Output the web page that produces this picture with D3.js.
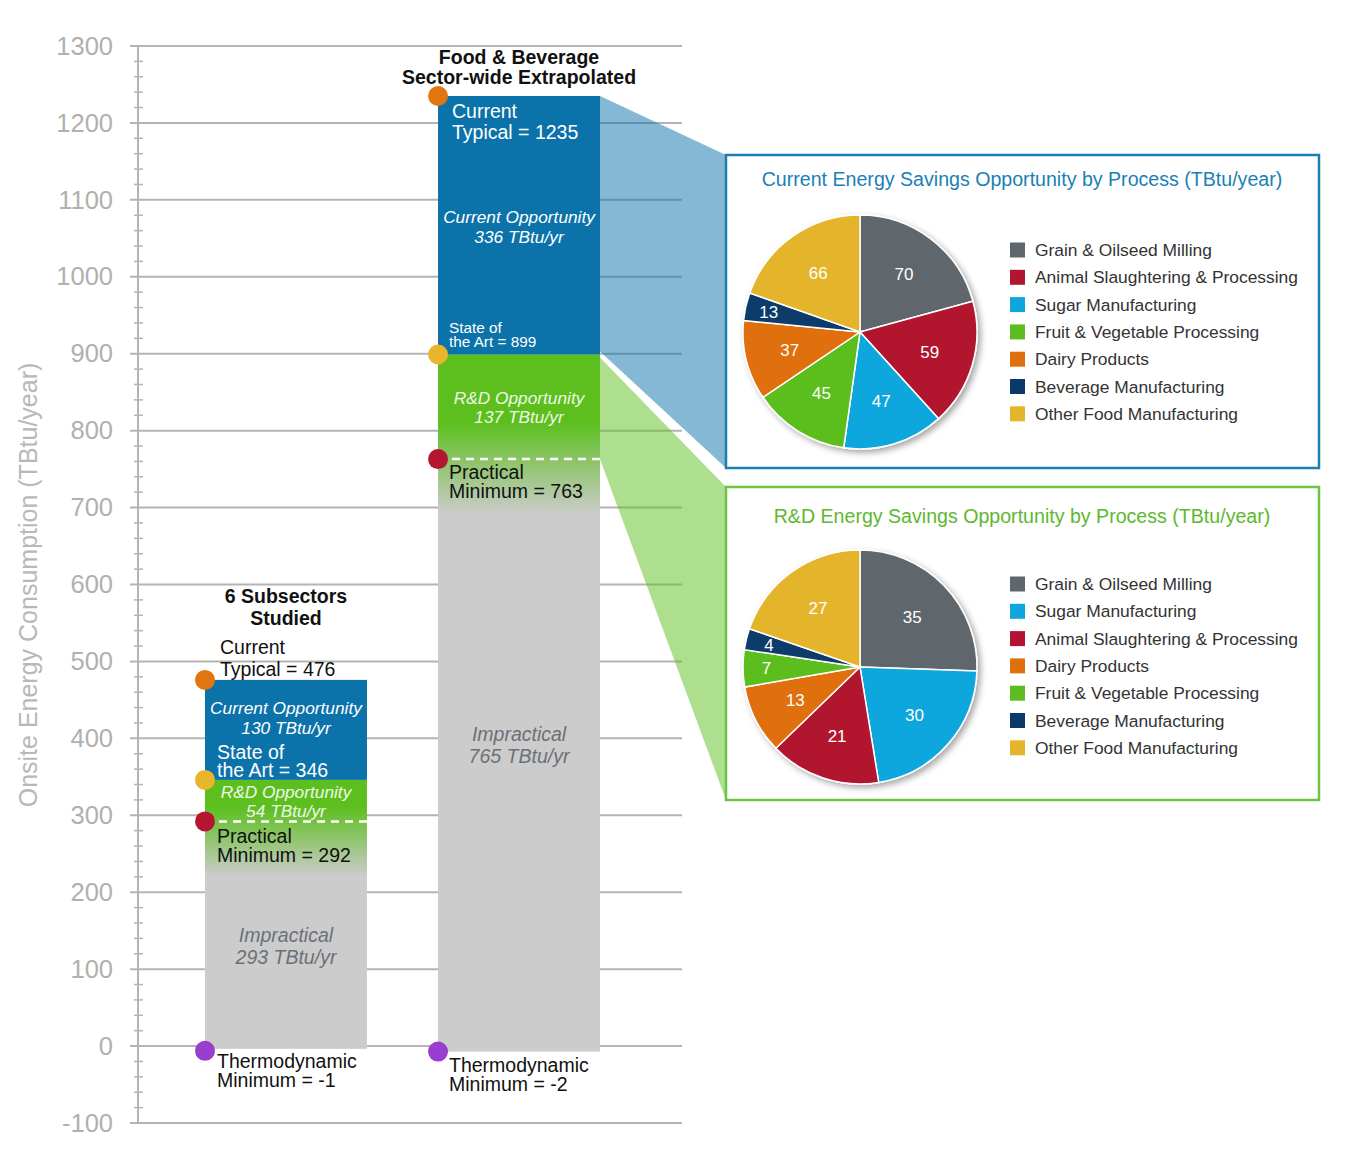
<!DOCTYPE html>
<html><head><meta charset="utf-8">
<script src="https://cdn.jsdelivr.net/npm/d3@7"></script>
<style>body{margin:0;background:#fff}svg{display:block;font-family:"Liberation Sans",Arial,sans-serif}</style>
</head><body><svg id="c" width="1350" height="1157"></svg>
<script>
// ---- data ----
const barTitles = [["6 Subsectors","Studied"],["Food & Beverage","Sector-wide Extrapolated"]];
const currentTypical = [476, 1235];
const stateOfArt = [346, 899];
const practicalMin = [292, 763];
const thermoMin = [-1, -2];
const currentOpp = [130, 336];
const rdOpp = [54, 137];
const impractical = [293, 765];
const yTicks = [-100,0,100,200,300,400,500,600,700,800,900,1000,1100,1200,1300];

const pie1Cats = ["Grain & Oilseed Milling","Animal Slaughtering & Processing","Sugar Manufacturing","Fruit & Vegetable Processing","Dairy Products","Beverage Manufacturing","Other Food Manufacturing"];
const pie1Vals = [70,59,47,45,37,13,66];
const pie2Cats = ["Grain & Oilseed Milling","Sugar Manufacturing","Animal Slaughtering & Processing","Dairy Products","Fruit & Vegetable Processing","Beverage Manufacturing","Other Food Manufacturing"];
const pie2Vals = [35,30,21,13,7,4,27];

const catColor = {
  "Grain & Oilseed Milling":"#5f666c",
  "Animal Slaughtering & Processing":"#b1152f",
  "Sugar Manufacturing":"#0fa6dd",
  "Fruit & Vegetable Processing":"#5cbe1e",
  "Dairy Products":"#e0700f",
  "Beverage Manufacturing":"#0b3a6a",
  "Other Food Manufacturing":"#e4b52b"
};
const BLUE="#0b72aa", GREEN="#5cbf1e", GRAY="#cccccc";

const svg = d3.select("#c");
const defs = svg.append("defs");
const y = d3.scaleLinear().domain([-100,1300]).range([1123,46]);
const x = d3.scaleBand().domain([0,1]).range([205,600]).paddingInner(0.305).paddingOuter(0);

// gridlines
svg.append("g").selectAll("line").data(yTicks).join("line")
  .attr("x1",130).attr("x2",682).attr("y1",d=>y(d)).attr("y2",d=>y(d))
  .attr("stroke","#b4b4b4").attr("stroke-width",2);
// minor ticks
svg.append("g").selectAll("line").data(d3.range(-100,1301,20).filter(v=>v%100!==0)).join("line")
  .attr("x1",134).attr("x2",143).attr("y1",d=>y(d)).attr("y2",d=>y(d))
  .attr("stroke","#b4b4b4").attr("stroke-width",1.5);
svg.append("line").attr("x1",138).attr("x2",138).attr("y1",y(1300)).attr("y2",y(-100))
  .attr("stroke","#b4b4b4").attr("stroke-width",2);
// tick labels via axis
const ax = svg.append("g").attr("transform","translate(113,0)")
  .call(d3.axisLeft(y).tickValues(yTicks).tickSize(0).tickPadding(0).tickFormat(d=>String(d)));
ax.select(".domain").remove();
ax.selectAll("text").attr("font-size",25.5).attr("fill","#b0b0b0").attr("font-family","Liberation Sans, Arial, sans-serif");
svg.append("text").attr("transform","translate(37,585) rotate(-90)").attr("text-anchor","middle")
  .attr("font-size",25).attr("fill","#b8b8b8").text("Onsite Energy Consumption (TBtu/year)");

// funnels
const bx1 = {x:726,y:155,w:593,h:313,ty:31,py:177,ly:95}, bx2 = {x:726,y:487,w:593,h:313,ty:36,py:180,ly:97};
const xr = x(1)+x.bandwidth();
svg.append("path").attr("d",`M${xr},${y(currentTypical[1])}L${bx1.x},${bx1.y}L${bx1.x},${bx1.y+bx1.h}L${xr},${y(stateOfArt[1])-3}Z`)
  .attr("fill",BLUE).attr("opacity",0.5);
svg.append("path").attr("d",`M${xr},${y(stateOfArt[1])+3}L${bx2.x},${bx2.y}L${bx2.x},${bx2.y+bx2.h}L${xr},${y(practicalMin[1])}Z`)
  .attr("fill",GREEN).attr("opacity",0.5);

// bars
[0,1].forEach(i=>{
  const x0 = x(i), w = x.bandwidth();
  const sa=stateOfArt[i], pm=practicalMin[i];
  const gTop = y(sa), gBot = y(thermoMin[i]);
  const f1 = pm + 0.35*(sa-pm), f2 = pm - 72;
  const gid = "g"+i;
  const lg = defs.append("linearGradient").attr("id",gid).attr("gradientUnits","userSpaceOnUse")
    .attr("x1",0).attr("x2",0).attr("y1",gTop).attr("y2",gBot);
  const off = v => (y(v)-gTop)/(gBot-gTop);
  lg.append("stop").attr("offset",0).attr("stop-color",GREEN);
  lg.append("stop").attr("offset",off(f1)).attr("stop-color",GREEN);
  lg.append("stop").attr("offset",off(f2)).attr("stop-color",GRAY);
  lg.append("stop").attr("offset",1).attr("stop-color",GRAY);
  svg.append("rect").attr("x",x0).attr("width",w).attr("y",gTop).attr("height",gBot-gTop+(i?4:2)).attr("fill",`url(#${gid})`);
  svg.append("rect").attr("x",x0).attr("width",w).attr("y",y(currentTypical[i])).attr("height",y(sa)-y(currentTypical[i])).attr("fill",BLUE);
  svg.append("line").attr("x1",x0).attr("x2",x0+w).attr("y1",y(pm)).attr("y2",y(pm))
    .attr("stroke","#fff").attr("stroke-width",2.5).attr("stroke-dasharray","8,6");
  const dots=[[currentTypical[i],"#e0760f"],[sa,"#e8b52c"],[pm,"#b4162f"],[thermoMin[i],"#9a3ecf"]];
  dots.forEach(([v,c])=>svg.append("circle").attr("cx",x0).attr("cy",y(v)+(v<0?4:0)).attr("r",10).attr("fill",c));
});

function lines(g, arr, x0, y0, lh, opt){
  const t = svg.append("text").attr("x",x0).attr("y",y0).attr("font-size",opt.size).attr("fill",opt.fill)
    .attr("text-anchor",opt.anchor||"start").attr("font-style",opt.italic?"italic":null).attr("font-weight",opt.bold?"bold":null);
  arr.forEach((s,k)=>t.append("tspan").attr("x",x0).attr("dy",k?lh:0).text(s));
}
// bar 1 labels
const c0 = x(0)+x.bandwidth()/2, c1 = x(1)+x.bandwidth()/2;
lines(svg, barTitles[0], c0, 603, 22, {size:19.5,fill:"#111",anchor:"middle",bold:true});
lines(svg, ["Current",`Typical = ${currentTypical[0]}`], 220, 654, 22, {size:19.5,fill:"#111"});
lines(svg, ["Current Opportunity",`${currentOpp[0]} TBtu/yr`], c0, 714, 20, {size:17.3,fill:"#fff",anchor:"middle",italic:true});
lines(svg, ["State of",`the Art = ${stateOfArt[0]}`], 217, 759, 18, {size:19.5,fill:"#fff"});
lines(svg, ["R&D Opportunity",`${rdOpp[0]} TBtu/yr`], c0, 798, 19, {size:17.3,fill:"#eef8e6",anchor:"middle",italic:true});
lines(svg, ["Practical",`Minimum = ${practicalMin[0]}`], 217, 843, 19, {size:19.5,fill:"#111"});
lines(svg, ["Impractical",`${impractical[0]} TBtu/yr`], c0, 942, 22, {size:19.5,fill:"#6b7078",anchor:"middle",italic:true});
lines(svg, ["Thermodynamic",`Minimum = ${thermoMin[0]}`], 217, 1068, 19, {size:19.5,fill:"#111"});
// bar 2 labels
lines(svg, barTitles[1], c1, 64, 20, {size:19.5,fill:"#111",anchor:"middle",bold:true});
lines(svg, ["Current",`Typical = ${currentTypical[1]}`], 452, 118, 21, {size:19.5,fill:"#fff"});
lines(svg, ["Current Opportunity",`${currentOpp[1]} TBtu/yr`], c1, 223, 20, {size:17.3,fill:"#fff",anchor:"middle",italic:true});
lines(svg, ["State of",`the Art = ${stateOfArt[1]}`], 449, 333, 14, {size:15.3,fill:"#fff"});
lines(svg, ["R&D Opportunity",`${rdOpp[1]} TBtu/yr`], c1, 404, 19, {size:17.3,fill:"#eef8e6",anchor:"middle",italic:true});
lines(svg, ["Practical",`Minimum = ${practicalMin[1]}`], 449, 479, 19, {size:19.5,fill:"#111"});
lines(svg, ["Impractical",`${impractical[1]} TBtu/yr`], c1, 741, 22, {size:19.5,fill:"#6b7078",anchor:"middle",italic:true});
lines(svg, ["Thermodynamic",`Minimum = ${thermoMin[1]}`], 449, 1072, 19, {size:19.5,fill:"#111"});

// pie boxes
const sh = defs.append("filter").attr("id","sh").attr("x","-20%").attr("y","-20%").attr("width","140%").attr("height","140%");
sh.append("feDropShadow").attr("dx",3).attr("dy",3).attr("stdDeviation",3).attr("flood-color","#000").attr("flood-opacity",0.35);

function pieBox(b, stroke, title, titleColor, cats, vals){
  svg.append("rect").attr("x",b.x).attr("y",b.y).attr("width",b.w).attr("height",b.h)
    .attr("fill","#fff").attr("stroke",stroke).attr("stroke-width",2.5);
  svg.append("text").attr("x",b.x+296).attr("y",b.y+b.ty).attr("text-anchor","middle")
    .attr("font-size",19.6).attr("fill",titleColor).text(title);
  const cx=b.x+134, cy=b.y+b.py, r=117;
  const data = cats.map((c,i)=>({c,v:vals[i]}));
  const arcs = d3.pie().sort(null).value(d=>d.v)(data);
  const arc = d3.arc().innerRadius(0).outerRadius(r);
  const total = d3.sum(vals);
  const g = svg.append("g").attr("transform",`translate(${cx},${cy})`);
  g.append("g").attr("filter","url(#sh)").selectAll("path").data(arcs).join("path")
    .attr("d",arc).attr("fill",d=>catColor[d.data.c]).attr("stroke","#fff").attr("stroke-width",1.5);
  g.selectAll("text").data(arcs).join("text")
    .attr("transform",d=>{const rr = d.data.v/total<0.06 ? r*0.8 : r*0.62;
      return `translate(${d3.arc().innerRadius(rr).outerRadius(rr).centroid(d)})`;})
    .attr("text-anchor","middle").attr("dy","0.35em").attr("font-size",17).attr("fill","#fff")
    .text(d=>d.data.v);
  const lg = svg.append("g").attr("transform",`translate(${b.x+284},${b.y+b.ly})`);
  cats.forEach((c,i)=>{
    lg.append("rect").attr("x",0).attr("y",i*27.3-7.5).attr("width",15).attr("height",15).attr("fill",catColor[c]);
    lg.append("text").attr("x",25).attr("y",i*27.3).attr("dy","0.35em").attr("font-size",17.4).attr("fill","#333").text(c);
  });
}
pieBox(bx1,"#1b7fb2","Current Energy Savings Opportunity by Process (TBtu/year)","#1a80b5",pie1Cats,pie1Vals);
pieBox(bx2,"#6cc443","R&D Energy Savings Opportunity by Process (TBtu/year)","#5db82f",pie2Cats,pie2Vals);
</script></body></html>
